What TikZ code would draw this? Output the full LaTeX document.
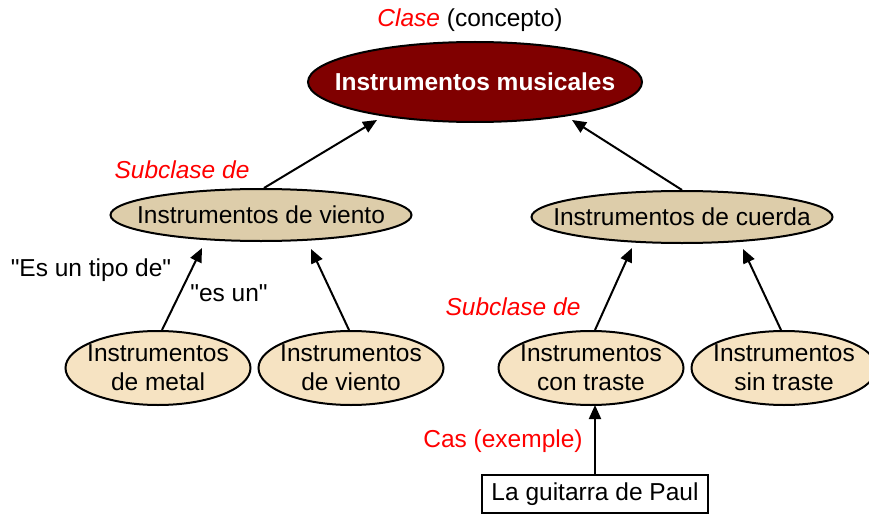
\documentclass[tikz,border=0pt]{standalone}
\usepackage{fontspec}
\setmainfont{Liberation Sans}
\usetikzlibrary{shapes.geometric,arrows.meta}
\definecolor{darkred}{HTML}{800000}
\definecolor{tanA}{HTML}{DDCDAA}
\definecolor{tanB}{HTML}{F6E3C2}
\definecolor{lblred}{HTML}{FF0000}
\begin{document}
\begin{tikzpicture}[x=1pt,y=-1pt,
  every node/.style={font=\fontsize{24.5}{29}\selectfont},
  topnode/.style={ellipse,draw=black,line width=2pt,fill=darkred,minimum width=334,minimum height=80,inner sep=0pt},
  midnode/.style={ellipse,draw=black,line width=2pt,fill=tanA,minimum width=301,minimum height=52,inner sep=0pt},
  lownode/.style={ellipse,draw=black,line width=2pt,fill=tanB,minimum width=185,minimum height=74,inner sep=0pt},
  boxnode/.style={rectangle,draw=black,line width=2pt,fill=white,minimum width=226,minimum height=38,inner sep=0pt},
  lbl/.style={inner sep=0pt,align=center},
  toplbl/.style={inner sep=0pt,text=white,font=\fontsize{24.5}{29}\selectfont\bfseries},
  redlbl/.style={inner sep=0pt,text=lblred,font=\fontsize{24.5}{29}\selectfont\itshape},
  arr/.style={line width=2pt,-{Triangle[length=14pt,width=12pt]}}]
\useasboundingbox (0,0) rectangle (869,516);
\node[lbl] (clase) at (470,20) {\textcolor{lblred}{\itshape Clase} (concepto)};
\node[topnode] (top) at (475,82) {};
\node[toplbl] (topt) at (top.center) {Instrumentos musicales};
\node[redlbl] (sub1) at (182,170) {Subclase de};
\node[midnode] (vien) at (261,215) {};
\node[lbl] (vient) at (vien.center) {Instrumentos de viento};
\node[midnode] (cuer) at (682,217) {};
\node[lbl] (cuert) at (cuer.center) {Instrumentos de cuerda};
\node[lbl] (tipo) at (91,270) {\textquotedbl Es un tipo de\textquotedbl};
\node[lbl] (esun) at (229,293) {\textquotedbl es un\textquotedbl};
\node[redlbl] (sub2) at (513,307) {Subclase de};
\node[lownode] (metal) at (158,368) {};
\node[lbl] (metalt) at (metal.center) {Instrumentos\\de metal};
\node[lownode] (vien2) at (351,368) {};
\node[lbl] (vien2t) at (vien2.center) {Instrumentos\\de viento};
\node[lownode] (con) at (591,368) {};
\node[lbl] (cont) at (con.center) {Instrumentos\\con traste};
\node[lownode] (sin) at (784,368) {};
\node[lbl] (sint) at (sin.center) {Instrumentos\\sin traste};
\node[lbl,text=lblred] (cas) at (503,441) {Cas (exemple)};
\node[boxnode] (paul) at (595,494) {La guitarra de Paul};
\draw[arr] ([xshift=3]vien.north) -- ([shift={(-98,38)}]top.center);
\draw[arr] (cuer.north) -- ([shift={(97,38)}]top.center);
\draw[arr] ([xshift=4]metal.north) -- ([shift={(-59,33)}]vien.center);
\draw[arr] ([xshift=-2]vien2.north) -- ([shift={(50,34)}]vien.center);
\draw[arr] ([xshift=4]con.north) -- ([shift={(-50,31)}]cuer.center);
\draw[arr] ([xshift=-3]sin.north) -- ([shift={(61,32)}]cuer.center);
\draw[arr] (paul.north) -- ([shift={(4,37)}]con.center);
\end{tikzpicture}
\end{document}
